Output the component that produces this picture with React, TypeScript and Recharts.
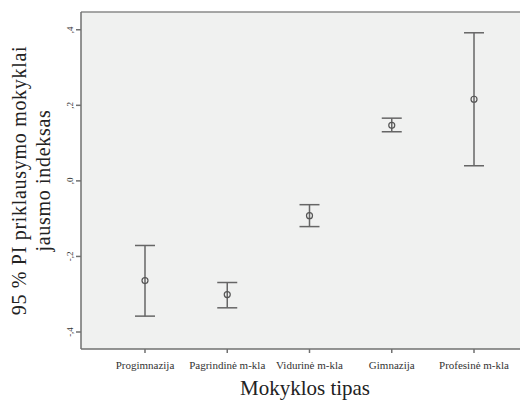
import { ScatterChart, Scatter, XAxis, YAxis, ErrorBar, CartesianGrid, ReferenceLine } from "recharts";

const categories = ["Progimnazija", "Pagrindinė m-kla", "Vidurinė m-kla", "Gimnazija", "Profesinė m-kla"];
const means = [-0.264, -0.301, -0.092, 0.147, 0.216];
const lower = [-0.358, -0.336, -0.121, 0.130, 0.040];
const upper = [-0.171, -0.269, -0.063, 0.166, 0.392];
const yTicks = [-0.4, -0.2, 0, 0.2, 0.4];

const X_DOMAIN: [number, number] = [-0.778, 4.778];
const Y_DOMAIN: [number, number] = [-0.445, 0.447];

const rows = categories.map((name, i) => ({
    pos: i,
    name,
    mean: means[i],
    err: [means[i] - lower[i], upper[i] - means[i]],
}));

const SERIF = "'Liberation Serif', 'Times New Roman', serif";

// SPSS style: ",4" "-,2"
const fmt = (v: number) => {
    const s = Math.abs(v).toFixed(1).replace(/^0/, "").replace(".", ",");
    return v < 0 ? "-" + s : s;
};

const YTick = (props: any) => {
    const { x, y, payload } = props;
    return (
        <text x={x - 1} y={y} transform={`rotate(-90, ${x - 1}, ${y})`} textAnchor="middle"
            fontSize={9} fontFamily={SERIF} fill="#333">
            {fmt(payload.value)}
        </text>
    );
};

const YTitle = (props: any) => {
    const { viewBox } = props;
    const cy = viewBox.y + viewBox.height / 2;
    return (
        <g fontFamily={SERIF} fontSize={20} letterSpacing={0.7} fill="#222" textAnchor="middle">
            <text x={18} y={cy} transform={`rotate(-90, 18, ${cy})`}>95 % PI priklausymo mokyklai</text>
            <text x={42} y={cy} transform={`rotate(-90, 42, ${cy})`}>jausmo indeksas</text>
        </g>
    );
};

const XTitle = (props: any) => {
    const { viewBox } = props;
    return (
        <text x={297} y={viewBox.y + 46} textAnchor="middle" fontFamily={SERIF} fontSize={21} fill="#222">
            Mokyklos tipas
        </text>
    );
};

const Dot = (props: any) => {
    const { cx, cy } = props;
    return <circle cx={cx} cy={cy} r={3} fill="none" stroke="#555" strokeWidth={1.2} />;
};

export default function App() {
    return (
        <div style={{ width: 520, height: 393, overflow: "hidden", background: "#fff" }}>
            <ScatterChart width={540} height={393} margin={{ top: 4, right: 10, bottom: 0, left: 0 }}>
                <CartesianGrid horizontal={false} vertical={false} fill="#f0f1f0" />
                <XAxis type="number" dataKey="pos" domain={X_DOMAIN} ticks={[0, 1, 2, 3, 4]}
                    tickFormatter={(v) => categories[v]} interval={0} height={52}
                    stroke="#707070" strokeWidth={1.5} tickSize={4} tickMargin={8}
                    tick={{ fill: "#333", fontSize: 11, fontFamily: SERIF }}
                    label={<XTitle />} />
                <YAxis type="number" dataKey="mean" domain={Y_DOMAIN} ticks={yTicks} width={73}
                    stroke="#707070" strokeWidth={1.5} tickSize={5} tick={<YTick />}
                    label={<YTitle />} />
                <ReferenceLine y={Y_DOMAIN[1]} stroke="#8a8a8a" strokeWidth={1.5} />
                <Scatter data={rows} shape={<Dot />} isAnimationActive={false}>
                    <ErrorBar dataKey="err" direction="y" width={10} stroke="#666" strokeWidth={1.5} />
                </Scatter>
            </ScatterChart>
        </div>
    );
}
